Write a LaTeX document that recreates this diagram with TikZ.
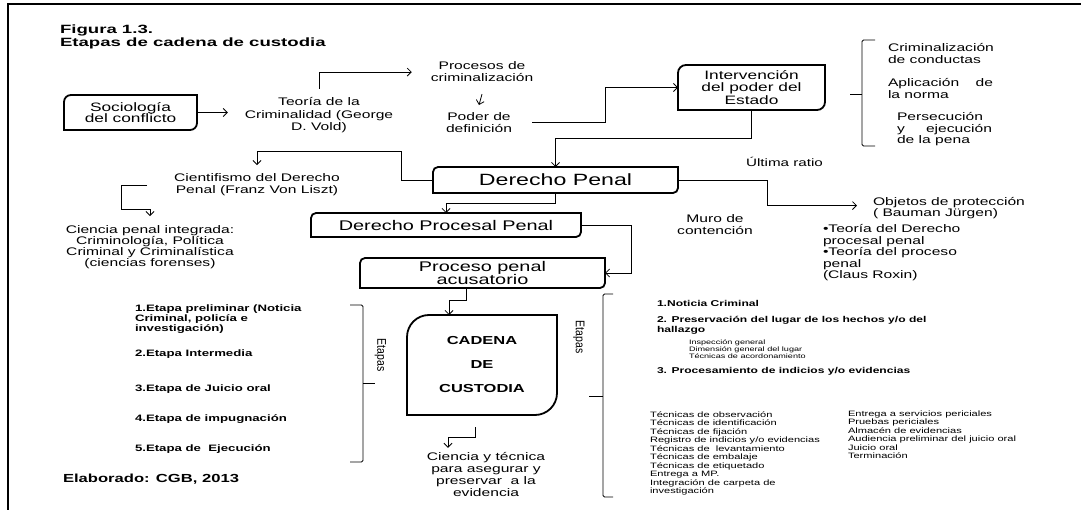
\documentclass[tikz,border=0pt]{standalone}
\usepackage{fontspec}
\setmainfont{Liberation Sans}[FakeStretch=1.42]
\newfontfamily\titlefont{Liberation Sans}[FakeStretch=1.55]
\newfontfamily\plainfont{Liberation Sans}
\usetikzlibrary{arrows.meta,calc}
\newcommand\fs[2]{\fontsize{#1}{#2}\selectfont}
\newcommand\diagframe[3]{%
  \draw[line width=#3] (#1.north east) -- ([yshift=#2]#1.south east)
    arc[start angle=0,end angle=-90,radius=#2] -- (#1.south west)
    -- ([yshift=-#2]#1.north west) arc[start angle=180,end angle=90,radius=#2] -- cycle;}
% multi-line nodes: 'base' anchors sit on the LAST line's baseline
\tikzset{
  txt/.style={inner sep=0pt, outer sep=0pt, align=center, anchor=base},
  ltxt/.style={inner sep=0pt, outer sep=0pt, align=left, anchor=base west},
  boxnode/.style={inner sep=0pt, outer sep=0pt, align=center},
  conn/.style={line width=0.8pt, -{Straight Barb[length=4pt,width=8pt]}},
  bracket/.style={line width=0.8pt, rounded corners=1.5pt},
  frameline/.style={line width=2pt},
  etapas/.style={inner sep=0pt, rotate=-90, font=\plainfont\fs{10.5}{12}},
}
\begin{document}
\begin{tikzpicture}[x=1pt,y=1pt]
\useasboundingbox (0,0) rectangle (1081,-510);
\draw[frameline] (8,-512) -- (8,-4) -- (1083,-4);

% title
\node[ltxt, font=\titlefont\bfseries\fs{12}{13}] (title) at (60,-47) {Figura 1.3.\\Etapas de cadena de custodia};

% boxes
\node[boxnode, minimum width=133pt, minimum height=35pt, font=\fs{12.2}{11.7}] (soc) at (130.5,-112.5) {Sociología\\del conflicto};
\diagframe{soc}{7pt}{1.8pt}
\node[boxnode, minimum width=147pt, minimum height=45pt, font=\fs{12.2}{12.7}] (interv) at (751.5,-87.5) {Intervención\\del poder del\\Estado};
\diagframe{interv}{8pt}{1.8pt}
\node[boxnode, minimum width=245pt, minimum height=26pt, font=\fs{16.3}{18}] (dp) at (555.5,-180) {Derecho Penal};
\diagframe{dp}{5pt}{1.8pt}
\node[boxnode, minimum width=270pt, minimum height=24pt, font=\fs{14}{16}] (dpp) at (446,-225) {Derecho Procesal Penal};
\diagframe{dpp}{5pt}{1.8pt}
\node[boxnode, minimum width=245pt, minimum height=30pt, font=\fs{14}{13.3}] (ppa) at (482.5,-273) {Proceso penal\\acusatorio};
\diagframe{ppa}{5pt}{1.8pt}
\node[boxnode, minimum width=150pt, minimum height=100pt, font=\bfseries\fs{11.6}{24}] (cad) at (482,-365) {CADENA\\DE\\CUSTODIA};
\diagframe{cad}{22pt}{1.8pt}

% plain texts
\node[txt, font=\fs{11}{12.3}] (teo) at (319,-130.6) {Teoría de la\\Criminalidad (George\\D. Vold)};
\node[txt, font=\fs{11}{12}] (proc) at (482,-82) {Procesos de\\criminalización};
\node[txt, font=\fs{11}{11.5}] (poder) at (479,-132.5) {Poder de\\definición};
\node[ltxt, font=\fs{11}{11.7}] (crim) at (888,-63.7) {Criminalización\\de conductas};
\node[ltxt, font=\fs{11}{12}] (apl) at (888,-99) {\makebox[105pt][s]{Aplicación de}\\la norma};
\node[ltxt, font=\fs{11}{11.5}] (pers) at (897,-144) {Persecución\\\makebox[95pt][s]{y ejecución}\\de la pena};
\node[txt, font=\fs{10.7}{12}] (ult) at (784.5,-167) {Última ratio};
\node[txt, font=\fs{11}{11.7}] (cient) at (257,-193.7) {Cientifismo del Derecho\\Penal (Franz Von Liszt)};
\node[txt, font=\fs{11}{11}] (ciencia) at (150,-267) {Ciencia penal integrada:\\Criminología, Política\\Criminal y Criminalística\\(ciencias forenses)};
\node[ltxt, font=\fs{11}{11}] (obj) at (873,-217) {Objetos de protección\\( Bauman Jürgen)};
\node[ltxt, font=\fs{11}{11.5}] (teorias) at (823,-279) {•Teoría del Derecho\\procesal penal\\•Teoría del proceso\\penal\\(Claus Roxin)};
\node[txt, font=\fs{11}{12}] (muro) at (715,-235) {Muro de\\contención};
\node[txt, font=\fs{11}{11.7}] (ct) at (486,-496) {Ciencia y técnica\\para asegurar y\\preservar~ a la\\evidencia};

% left stages
\node[ltxt, font=\bfseries\fs{9.3}{10}] (e1) at (135,-331) {1.Etapa preliminar (Noticia\\Criminal, policía e\\investigación)};
\node[ltxt, font=\bfseries\fs{9.3}{10}] (e2) at (135,-356) {2.Etapa Intermedia};
\node[ltxt, font=\bfseries\fs{9.3}{10}] (e3) at (135,-391) {3.Etapa de Juicio oral};
\node[ltxt, font=\bfseries\fs{9.3}{10}] (e4) at (135,-421) {4.Etapa de impugnación};
\node[ltxt, font=\bfseries\fs{9.3}{10}] (e5) at (135,-451) {5.Etapa de~ Ejecución};
\node[ltxt, font=\bfseries\fs{11.7}{12}] (elab) at (63,-482) {Elaborado: CGB, 2013};

\node[etapas] (etL) at (380.5,-355) {\scalebox{1}[1.2]{Etapas}};
\node[etapas] (etR) at (579,-337) {\scalebox{1}[1.2]{Etapas}};

% right stages
\node[ltxt, font=\bfseries\fs{8.5}{9.5}] (n1) at (657,-307) {1.Noticia Criminal};
\node[ltxt, font=\bfseries\fs{8.5}{9.5}] (n2) at (657,-332.5) {2. Preservación del lugar de los hechos y/o del\\hallazgo};
\node[ltxt, font=\fs{6.4}{7}] (n2s) at (689,-359) {Inspección general\\Dimensión general del lugar\\Técnicas de acordonamiento};
\node[ltxt, font=\bfseries\fs{8.5}{9.5}] (n3) at (657,-373) {3. Procesamiento de indicios y/o evidencias};
\node[ltxt, font=\fs{7.8}{8.5}] (c1) at (650,-493.5) {Técnicas de observación\\Técnicas de identificación\\Técnicas de fijación\\Registro de indicios y/o evidencias\\Técnicas de~ levantamiento\\Técnicas de embalaje\\Técnicas de etiquetado\\Entrega a MP.\\Integración de carpeta de\\investigación};
\node[ltxt, font=\fs{7.8}{8.5}] (c2) at (848,-458.5) {Entrega a servicios periciales\\Pruebas periciales\\Almacén de evidencias\\Audiencia preliminar del juicio oral\\Juicio oral\\Terminación};

% brackets
\draw[bracket] (350,-305) -- (363,-305) -- (363,-462) -- (350,-462);
\draw[bracket] (363,-383) -- (375,-383);
\draw[bracket] (613,-294) -- (603,-294) -- (603,-497) -- (613,-497);
\draw[bracket] (603,-396) -- (589,-396);
\draw[bracket] (875,-40) -- (862,-40) -- (862,-146) -- (875,-146);
\draw[bracket] (862,-94) -- (850,-94);

% connectors
\draw[conn] (soc.east) -- ($(soc.east -| teo.west)+(-17,0)$);
\draw[conn] ($(teo.north)+(0,9)$) |- ($(proc.west)+(-19,0)$);
\draw[conn] ($(proc.south)+(0,-12)$) -- ($(poder.north)+(0,8)$);
\draw[conn] ($(poder.east)+(20,0)$) -- ++(73,0) |- (interv.west);
\draw[conn] (interv.south) -- ++(0,-28) -| (dp.north);
\draw[conn] (dp.west) -- ++(-32,0) |- ($(cient.north)+(0,23)$) -- ($(cient.north)+(0,9)$);
\draw[conn] ($(cient.west)+(-27,0)$) -- ++(-26,0) |- ($(ciencia.north)+(0,17)$) -- ($(ciencia.north)+(0,10)$);
\draw[conn] (dp.east) -- ++(89,0) |- ($(obj.west)+(-16,3)$);
\draw[conn] (dp.south) -- ++(0,-10) -| (dpp.north);
\draw[conn] (dpp.east) -- ++(50,0) |- (ppa.east);
\draw[conn] ($(ppa.south)+(-16.5,0)$) -- ++(0,-12) -| ($(cad.north)+(-33,0)$);
\draw[conn] ($(cad.south)+(-7,-12)$) -- ++(0,-10) -| ($(ct.north)+(-38,5)$);
\end{tikzpicture}
\end{document}
